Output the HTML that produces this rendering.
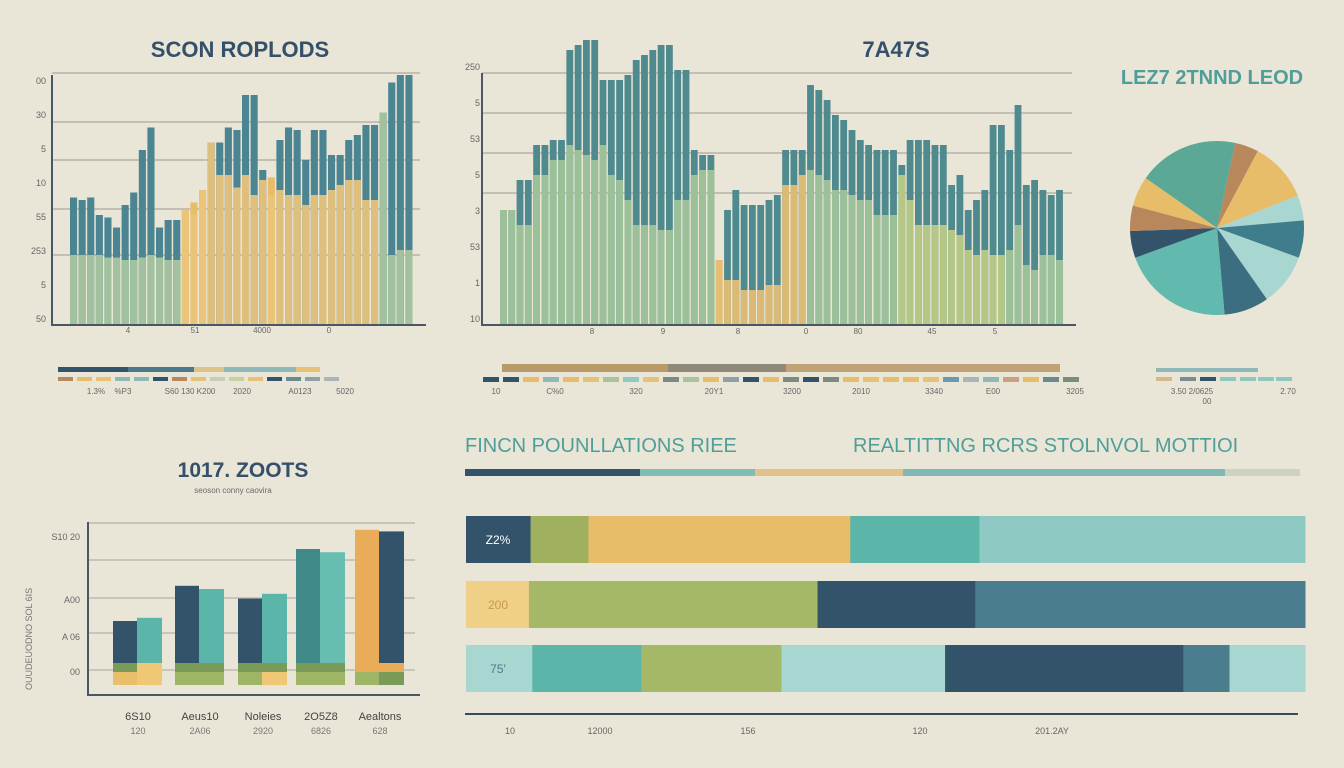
<!DOCTYPE html>
<html><head><meta charset="utf-8"><style>
html,body{margin:0;padding:0;background:#e9e5d7;}
svg{display:block;font-family:"Liberation Sans",sans-serif;}
</style></head><body>
<svg id="s" width="1344" height="768" viewBox="0 0 1344 768">
<rect width="1344" height="768" fill="#e9e5d7"/>
<text x="240" y="57" text-anchor="middle" font-size="22" font-weight="bold" fill="#34506a">SCON ROPLODS</text>
<text x="896" y="57" text-anchor="middle" font-size="22" font-weight="bold" fill="#34506a">7A47S</text>
<text x="1212" y="84" text-anchor="middle" font-size="20" font-weight="bold" fill="#4f9e9a">LEZ7 2TNND LEOD</text>
<text x="243" y="477" text-anchor="middle" font-size="21" font-weight="bold" fill="#34506a">1017. ZOOTS</text>
<text x="233" y="493" text-anchor="middle" font-size="8" fill="#6a6a6a">seoson conny caovira</text>
<text x="465" y="452" font-size="20" fill="#4f9e9a">FINCN POUNLLATIONS RIEE</text>
<text x="853" y="452" font-size="20" fill="#4f9e9a">REALTITTNG RCRS STOLNVOL MOTTIOI</text>
<g id="g1"></g><g id="g2"></g><g id="g3"></g><g id="g4"></g><g id="g5"></g>
</svg>
<script>
const NS="http://www.w3.org/2000/svg";
function mk(p,t,a){const e=document.createElementNS(NS,t);for(const k in a)e.setAttribute(k,a[k]);p.appendChild(e);return e;}
const C={navy:"#33536b",dt:"#3f7d8c",lg:"#a9c39a",yl:"#e8bd6a",tl:"#5bb5a8",lt:"#8ec9c3",gr:"#a4b868",br:"#b8875c",pl:"#a8d6d0"};

// ===== Chart 1 data =====
const c1Top=[51,50,51,44,43,39,48,53,70,79,39,42,42,46,49,54,73,73,79,78,92,92,62,59,74,79,78,66,78,78,68,68,74,76,80,80,85,97,100,100];
const c1Low=[28,28,28,28,27,27,26,26,27,28,27,26,26,46,44,54,73,60,60,55,60,52,58,52,54,52,52,48,52,52,54,56,58,58,50,50,85,28,30,30];
const c1Kind=["g","g","g","g","g","g","g","g","g","g","g","g","g","y","y","y","y","y","y","y","y","y","y","y","y","y","y","y","y","y","y","y","y","y","y","y","g","g","g","g"];
const c1Ticks=["50","5","253","55","10","5","30","00"];
const c1X=["4","51","4000","0"];
// ===== Chart 2 data =====
const c2Top=[46,46,58,58,72,72,74,74,110,112,114,114,98,98,98,100,106,108,110,112,112,102,102,70,68,68,26,46,54,48,48,48,50,52,70,70,70,96,94,90,84,82,78,74,72,70,70,70,64,74,74,74,72,72,56,60,46,50,54,80,80,70,88,56,58,54,52,54];
const c2Low=[46,46,40,40,60,60,66,66,72,70,68,66,72,60,58,50,40,40,40,38,38,50,50,60,62,62,26,18,18,14,14,14,16,16,56,56,60,62,60,58,54,54,52,50,50,44,44,44,60,50,40,40,40,40,38,36,30,28,30,28,28,30,40,24,22,28,28,26];
const c2Kind=[];for(let i=0;i<c2Top.length;i++)c2Kind.push(i>=26&&i<=36?"y":(i>=48&&i<=60?"o":"g"));
const c2Ticks=["10","1","53","3","5","53","5","250"];
const c2X=["8","9","8","0","80","45","5"];
// ===== Pie data =====
const pieVals=[16,40,17,25,35,30,75,18,17,20,67];
const pieCols=[C.br,C.yl,C.pl,"#3f7d8c",C.pl,"#3a6e80","#62b9ad",C.navy,C.br,C.yl,"#5aa895"];
// ===== Chart 3 data =====
const c3Cats=["6S10","Aeus10","Noleies","2O5Z8","Aealtons"];
const c3Sub=["120","2A06","2920","6826","628"];
const c3A=[40,62,54,85,97];
const c3B=[42,60,57,83,96];
const c3ACol=[C.navy,C.navy,C.navy,"#3f8a88","#e9ad5a"];
const c3BCol=[C.tl,C.tl,C.tl,"#66bdb0",C.navy];
// ===== Horizontal stacked bars =====
const hRow1=[7.7,6.9,31.2,15.4,38.8];
const hRow2=[7.5,34.4,18.8,39.3];
const hRow3=[7.9,13,16.7,19.5,28.4,5.5,9];
const hCol1=[C.navy,"#9fb05e",C.yl,C.tl,C.lt];
const hCol2=["#f0cf86",C.gr,C.navy,"#4a7d8e"];
const hCol3=[C.pl,C.tl,C.gr,C.pl,C.navy,"#4a7d8e",C.pl];
const hLabels=["Z2%","200","75'"];
const hX=["10","12000","156","120","201.2AY"];

// ----- chart 1 -----
(function(){
 const g=document.getElementById("g1");
 const x0=70,step=8.6,base=325,ys=v=>base-v*2.5;
 [73,122,160,209,255].forEach(y=>{const l=mk(g,"line",{x1:52,x2:420,y1:y,y2:y,stroke:"#9a9a94","stroke-width":1});
 });
 c1Top.forEach((v,i)=>{const x=x0+i*step;
  const r=mk(g,"rect",{x:x,y:ys(v),width:step-1.5,height:base-ys(v),fill:c1Kind[i]=="y"&&v<60?C.yl:"#4b8592"});
  
  const lv=c1Low[i];
  const r2=mk(g,"rect",{x:x,y:ys(lv),width:step-1.5,height:base-ys(lv),fill:c1Kind[i]=="y"?"#eac47c":"#a9c7a0",opacity:0.92});
  });
 const ax=mk(g,"path",{d:"M52 75 V325 H426",stroke:"#4a5866","stroke-width":2,fill:"none"});
 
 c1Ticks.forEach((t,i)=>{const y=322-i*34;const e=mk(g,"text",{x:46,y:y,"text-anchor":"end","font-size":9,fill:"#666"});e.textContent=t;
  });
 c1X.forEach((t,i)=>{const e=mk(g,"text",{x:128+i*67,y:333,"text-anchor":"middle","font-size":8,fill:"#666"});e.textContent=t;
  });
 [[58,128,C.navy],[128,194,"#4c7a8a"],[194,224,"#dcc48a"],[224,296,"#8fb8b8"],[296,320,"#e6c278"]].forEach(s=>{mk(g,"rect",{x:s[0],y:367,width:s[1]-s[0],height:5,fill:s[2]});});
 const lc=[C.br,C.yl,"#e6c278","#8fb8b8","#8fb8b8",C.navy,C.br,"#e6c278","#c9ccb8","#c9d0a0","#e6c278",C.navy,"#6a8a90","#8fa0a8","#aab5b8"];
 lc.forEach((c,i)=>{mk(g,"rect",{x:58+i*19,y:377,width:15,height:4,fill:c});});
 ["1.3%","%P3","S60 130 K200","2020","A0123","5020"].forEach((t,i)=>{const e=mk(g,"text",{x:[96,123,190,242,300,345][i],y:394,"text-anchor":"middle","font-size":8,fill:"#666"});e.textContent=t;
  });
})();
// ----- chart 2 -----
(function(){
 const g=document.getElementById("g2");
 const x0=500,step=8.3,base=325,ys=v=>base-v*2.5;
 [73,113,153,193].forEach(y=>{const l=mk(g,"line",{x1:482,x2:1072,y1:y,y2:y,stroke:"#9a9a94","stroke-width":1});
 });
 c2Top.forEach((v,i)=>{const x=x0+i*step;const k=c2Kind[i];
  const r=mk(g,"rect",{x:x,y:ys(v),width:step-1.5,height:base-ys(v),fill:k=="y"&&v<40?C.yl:"#4f8a8e"});
  
  const lv=c2Low[i];
  const r2=mk(g,"rect",{x:x,y:ys(lv),width:step-1.5,height:base-ys(lv),fill:k=="y"?"#e5bd72":(k=="o"?"#bccb84":"#a3c59a"),opacity:0.93});
  });
 const ax=mk(g,"path",{d:"M482 73 V325 H1076",stroke:"#4a5866","stroke-width":2,fill:"none"});
 
 c2Ticks.forEach((t,i)=>{const y=322-i*36;const e=mk(g,"text",{x:480,y:y,"text-anchor":"end","font-size":9,fill:"#666"});e.textContent=t;
  });
 c2X.forEach((t,i)=>{const e=mk(g,"text",{x:[592,663,738,806,858,932,995][i],y:334,"text-anchor":"middle","font-size":8,fill:"#666"});e.textContent=t;
  });
 [[502,668,"#b89a6a"],[668,786,"#8f8a78"],[786,1060,"#bfa276"]].forEach(s=>{mk(g,"rect",{x:s[0],y:364,width:s[1]-s[0],height:8,fill:s[2]});});
 const lc=[C.navy,C.navy,C.yl,"#8fb8b8",C.yl,"#e6c278","#a9c39a",C.lt,"#e6c278","#7d8a80","#a9c39a",C.yl,"#8fa0a8",C.navy,C.yl,"#7d8a80",C.navy,"#7d8a80",C.yl,"#e6c278",C.yl,C.yl,"#e6c278","#6a9ab0","#aab5b8","#8fb8b8","#c9a080",C.yl,"#6a8a90","#7d8a80"];
 lc.forEach((c,i)=>{mk(g,"rect",{x:483+i*20,y:377,width:16,height:5,fill:c});});
 ["10","C%0","320","20Y1","3200","2010","3340","E00","3205"].forEach((t,i)=>{const e=mk(g,"text",{x:[496,555,636,714,792,861,934,993,1075][i],y:394,"text-anchor":"middle","font-size":8,fill:"#666"});e.textContent=t;
  });
})();
// ----- pie -----
(function(){
 const g=document.getElementById("g3");
 const cx=1217,cy=228,r=87,tot=pieVals.reduce((a,b)=>a+b,0);
 let a=12*Math.PI/180;
 pieVals.forEach((v,i)=>{const da=v/tot*2*Math.PI;const a2=a+da;
  const p=(t)=>[cx+r*Math.sin(t),cy-r*Math.cos(t)];const [x1,y1]=p(a),[x2,y2]=p(a2);
  const s=mk(g,"path",{d:`M${cx} ${cy} L${x1} ${y1} A${r} ${r} 0 ${da>Math.PI?1:0} 1 ${x2} ${y2} Z`,fill:pieCols[i]});
  a=a2;});
 mk(g,"rect",{x:1156,y:368,width:102,height:4,fill:"#8fb8b8"});
 [[1156,"#d6b88a"],[1180,"#7d8a90"],[1200,C.navy],[1220,"#8fc8c0"],[1240,"#8fc8c0"],[1258,"#8fc8c0"],[1276,"#8fc8c0"]].forEach(s=>{mk(g,"rect",{x:s[0],y:377,width:16,height:4,fill:s[1]});});
 ["3.50 2/0625","2.70","00"].forEach((t,i)=>{const e=mk(g,"text",{x:[1192,1288,1207][i],y:[394,394,404][i],"text-anchor":"middle","font-size":8,fill:"#666"});e.textContent=t;
  });
})();
// ----- chart 3 -----
(function(){
 const g=document.getElementById("g4");
 const base=685,ys=v=>base-v*1.6;
 [523,560,598,633,670].forEach(y=>{const l=mk(g,"line",{x1:88,x2:415,y1:y,y2:y,stroke:"#a8a8a0","stroke-width":1});
 });
 const gx=[113,175,238,296,355];
 c3Cats.forEach((c,i)=>{const x=gx[i];
  const a=mk(g,"rect",{x:x,y:ys(c3A[i]),width:24,height:base-ys(c3A[i]),fill:c3ACol[i]});
  const b=mk(g,"rect",{x:x+24,y:ys(c3B[i]),width:25,height:base-ys(c3B[i]),fill:c3BCol[i]});
  const s1=mk(g,"rect",{x:x,y:base-22,width:49,height:9,fill:i==4?"#e9ad5a":"#7a9a58"});
  const s2=mk(g,"rect",{x:x,y:base-13,width:49,height:13,fill:i==0?"#e9bf6c":"#9fb566"});
  if(i==0||i==2){mk(g,"rect",{x:x+24,y:base-(i==0?22:13),width:25,height:(i==0?22:13),fill:"#f0c774"});}
  if(i==4){mk(g,"rect",{x:x+24,y:base-13,width:25,height:13,fill:"#7a9a58"});}
  const t=mk(g,"text",{x:x+25,y:720,"text-anchor":"middle","font-size":11,fill:"#444"});t.textContent=c;
  const t2=mk(g,"text",{x:x+25,y:734,"text-anchor":"middle","font-size":9,fill:"#777"});t2.textContent=c3Sub[i];});
 const ax=mk(g,"path",{d:"M88 522 V695 H420",stroke:"#4a5866","stroke-width":2,fill:"none"});
 
 ["S10 20","A00","A 06","00"].forEach((t,i)=>{const e=mk(g,"text",{x:80,y:[540,603,640,675][i],"text-anchor":"end","font-size":9,fill:"#666"});e.textContent=t;
  });
 const yt=mk(g,"text",{x:0,y:0,"font-size":9,fill:"#777",transform:"translate(32 690) rotate(-90)"});yt.textContent="OUUDEUODNO SOL 6IS";
 
})();
// ----- horizontal bars -----
(function(){
 const g=document.getElementById("g5");
 const x0=466,W=839,xs=v=>v/100*W;
 [[465,640,C.navy],[640,755,"#7fbdb5"],[755,903,"#e2c28a"],[903,1225,"#7fb8b4"],[1225,1300,"#ccd3c0"]].forEach(s=>{mk(g,"rect",{x:s[0],y:469,width:s[1]-s[0],height:7,fill:s[2]});});
 const rows=[hRow1,hRow2,hRow3],cols=[hCol1,hCol2,hCol3],ry=[516,581,645];
 rows.forEach((row,ri)=>{let acc=0;row.forEach((v,j)=>{const r=mk(g,"rect",{x:x0+xs(acc),y:ry[ri],width:xs(v)+0.5,height:47,fill:cols[ri][j]});
   acc+=v;});
  const t=mk(g,"text",{x:498,y:ry[ri]+28,"text-anchor":"middle","font-size":12,fill:ri==0?"#fff":(ri==1?"#c49a50":"#4a7d8e")});t.textContent=hLabels[ri];
  });
 const ax=mk(g,"line",{x1:465,x2:1298,y1:714,y2:714,stroke:"#3a4a5a","stroke-width":2});
 
 hX.forEach((t,i)=>{const e=mk(g,"text",{x:[510,600,748,920,1052][i],y:734,"text-anchor":"middle","font-size":9,fill:"#666"});e.textContent=t;
  });
})();
</script>
</body></html>
